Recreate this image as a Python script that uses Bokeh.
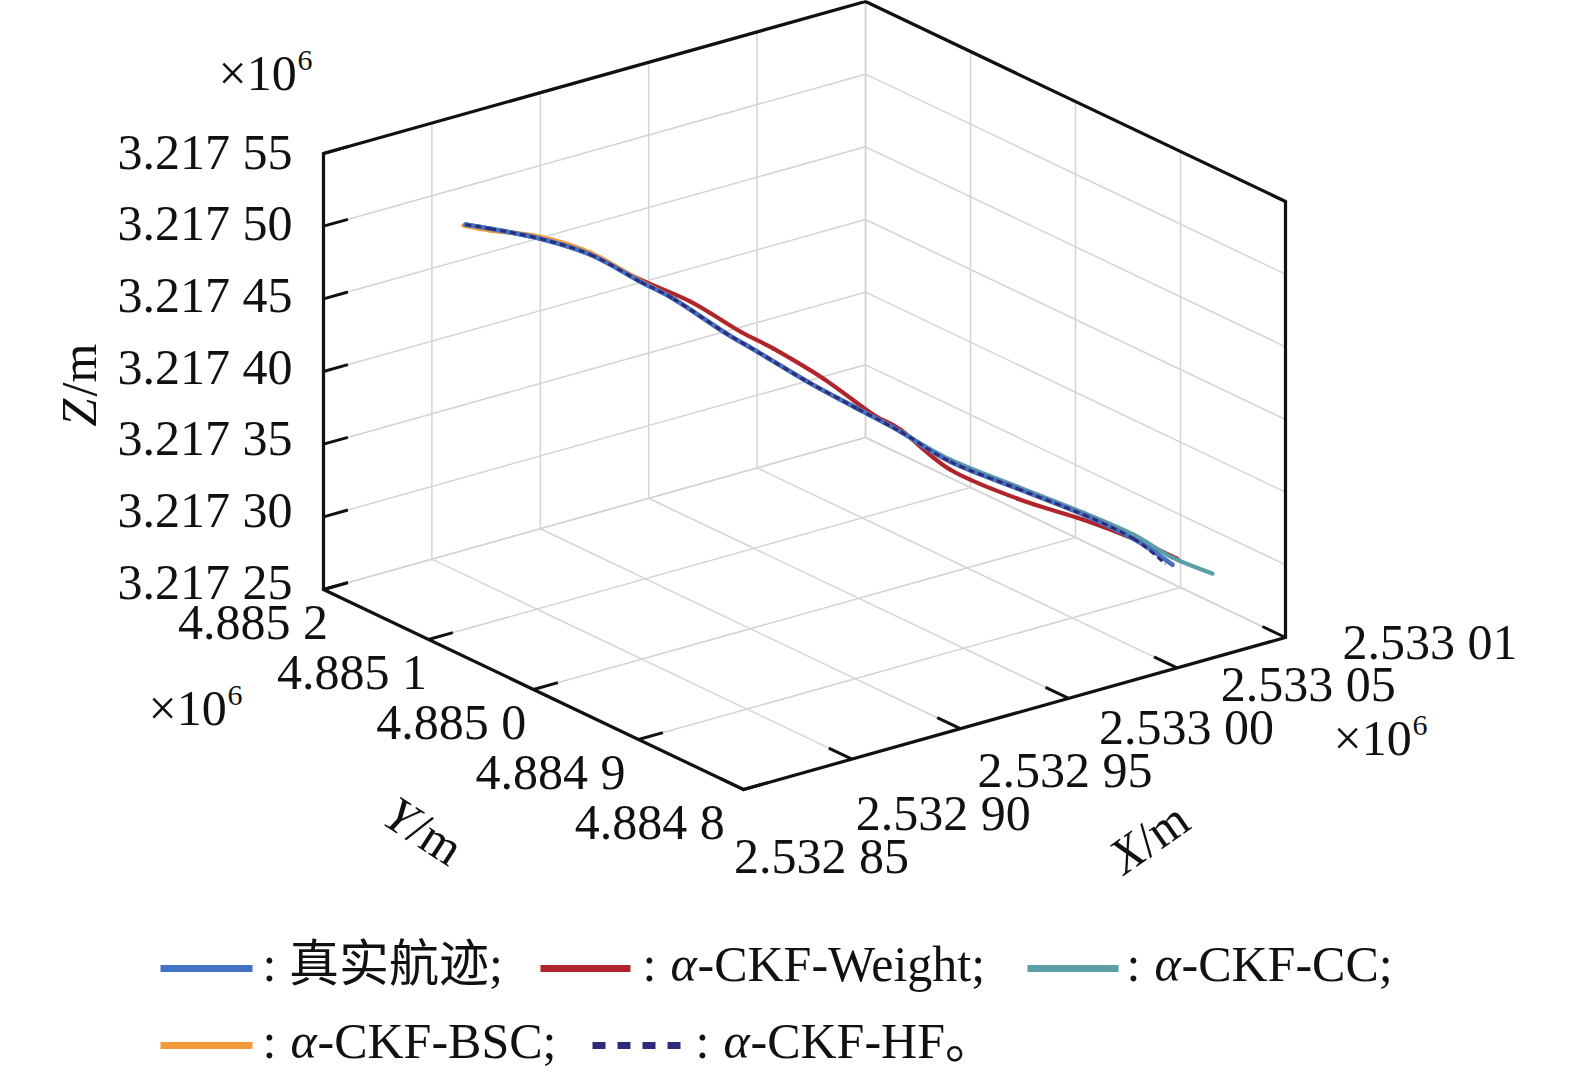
import numpy as np
from bokeh.plotting import figure
from bokeh.models import Range1d
from bokeh.core.properties import value
from bokeh.embed import file_html
from bokeh.resources import INLINE

# ---------------- data (metres) ----------------
x_true = [2532905.8, 2532912.5, 2532925.9, 2532939.3, 2532952.6, 2532962.0, 2532975.4, 2532984.3,
          2532998.2, 2533011.6, 2533023.2, 2533036.5, 2533054.4, 2533072.2, 2533085.6, 2533096.3]
y_true = [4885180, 4885170, 4885150, 4885130, 4885110, 4885098, 4885078, 4885064,
          4885045, 4885025, 4885008, 4884988, 4884961, 4884935, 4884915, 4884900]
z_true = [3217484.6, 3217482.4, 3217476.8, 3217467.1, 3217449.8, 3217438.3, 3217416.9, 3217404.2,
          3217384.3, 3217367.0, 3217352.2, 3217332.8, 3217316.1, 3217299.7, 3217284.4, 3217267.2]

x_weight = [2532905.8, 2532912.5, 2532925.9, 2532939.3, 2532952.6, 2532966.5, 2532979.9, 2532988.8,
            2533002.2, 2533015.5, 2533023.2, 2533036.5, 2533054.4, 2533072.2, 2533085.6, 2533097.6]
y_weight = [4885180, 4885170, 4885150, 4885130, 4885110, 4885091, 4885071, 4885058,
            4885038, 4885018, 4885008, 4884988, 4884961, 4884935, 4884915, 4884898]
z_weight = [3217484.6, 3217482.4, 3217476.8, 3217467.1, 3217451.2, 3217436.8, 3217417.4, 3217406.5,
            3217387.1, 3217363.6, 3217353.5, 3217327.3, 3217309.2, 3217296.2, 3217284.4, 3217271.5]

x_cc = [2532905.8, 2532912.5, 2532925.9, 2532939.3, 2532952.6, 2532962.0, 2532975.4, 2532984.3,
        2532998.2, 2533011.6, 2533023.2, 2533036.5, 2533054.4, 2533072.2, 2533085.6, 2533091.5, 2533095.4]
y_cc = [4885180, 4885170, 4885150, 4885130, 4885110, 4885098, 4885078, 4885064,
        4885045, 4885025, 4885008, 4884988, 4884961, 4884935, 4884915, 4884890, 4884860]
z_cc = [3217484.6, 3217482.4, 3217476.8, 3217467.1, 3217449.8, 3217438.3, 3217416.9, 3217404.2,
        3217384.3, 3217367.0, 3217352.2, 3217334.2, 3217317.4, 3217301.0, 3217287.2, 3217277.5, 3217275.2]

x_bsc = [2532904.9, 2532912.5, 2532925.9, 2532939.3, 2532952.6, 2532962.0, 2532975.4, 2532984.3,
         2532998.2, 2533011.6, 2533023.2, 2533036.5, 2533054.4, 2533072.2, 2533085.6, 2533096.3]
y_bsc = [4885180, 4885170, 4885150, 4885130, 4885110, 4885098, 4885078, 4885064,
         4885045, 4885025, 4885008, 4884988, 4884961, 4884935, 4884915, 4884900]
z_bsc = [3217484.3, 3217481.1, 3217478.2, 3217468.5, 3217450.5, 3217438.3, 3217416.9, 3217404.2,
         3217384.3, 3217367.0, 3217352.2, 3217332.8, 3217316.1, 3217299.7, 3217284.4, 3217267.2]

x_hf = [2532905.8, 2532912.5, 2532925.9, 2532939.3, 2532952.6, 2532962.0, 2532975.4, 2532984.3,
        2532998.2, 2533011.6, 2533023.2, 2533036.5, 2533054.4, 2533072.2, 2533085.6, 2533093.1]
y_hf = [4885180, 4885170, 4885150, 4885130, 4885110, 4885098, 4885078, 4885064,
        4885045, 4885025, 4885008, 4884988, 4884961, 4884935, 4884915, 4884900]
z_hf = [3217484.6, 3217482.4, 3217476.8, 3217467.1, 3217449.8, 3217438.3, 3217416.9, 3217404.2,
        3217384.3, 3217367.0, 3217352.2, 3217332.8, 3217316.1, 3217299.7, 3217284.4, 3217269.2]

X_TICKS = [2532850, 2532900, 2532950, 2533000, 2533050, 2533100]
X_LABELS = ["2.532 85", "2.532 90", "2.532 95", "2.533 00", "2.533 05", "2.533 01"]
Y_TICKS = [4884800, 4884900, 4885000, 4885100, 4885200]
Y_LABELS = ["4.884 8", "4.884 9", "4.885 0", "4.885 1", "4.885 2"]
Z_TICKS = [3217250, 3217300, 3217350, 3217400, 3217450, 3217500, 3217550]
Z_LABELS = ["3.217 25", "3.217 30", "3.217 35", "3.217 40", "3.217 45", "3.217 50", "3.217 55"]

SERIES_NAMES = ["真实航迹;", "-CKF-Weight;", "-CKF-CC;", "-CKF-BSC;", "-CKF-HF。"]
COLORS = ["#4472c4", "#b0252b", "#5b9ea6", "#f39a3a", "#2e2b78"]

# ---------------- projection (orthographic 3D view) ----------------
XMIN, XMAX = X_TICKS[0], X_TICKS[-1]
YMIN, YMAX = Y_TICKS[0], Y_TICKS[-1]
ZMIN, ZMAX = Z_TICKS[0], Z_TICKS[-1]
ORIGIN = (743.0, 789.0)
VX = (542.0, -152.0)
VY = (-420.0, -200.0)
VZ = (0.0, -436.0)

W, H = 1572, 1073


def proj(x, y, z):
    u = (np.asarray(x, float) - XMIN) / (XMAX - XMIN)
    v = (np.asarray(y, float) - YMIN) / (YMAX - YMIN)
    w = (np.asarray(z, float) - ZMIN) / (ZMAX - ZMIN)
    px = ORIGIN[0] + u * VX[0] + v * VY[0] + w * VZ[0]
    py = ORIGIN[1] + u * VX[1] + v * VY[1] + w * VZ[1]
    return px, py


def to_data(px, py):
    return np.asarray(px, float), H - np.asarray(py, float)


def pd(x, y, z):
    return to_data(*proj(x, y, z))


p = figure(width=W, height=H, x_range=Range1d(0, W), y_range=Range1d(0, H),
           output_backend="svg", toolbar_location=None, min_border=0)
p.axis.visible = False
p.grid.visible = False
p.outline_line_color = None
p.background_fill_color = "white"
p.border_fill_color = "white"

SERIF = value("Liberation Serif")
FS = value("50px")
INK = "#111111"

# ---------------- grid lines on back walls and floor ----------------
gx, gy = [], []


def seg(a, b, xs, ys):
    xa, ya = pd(*a)
    xb, yb = pd(*b)
    xs.append([float(xa), float(xb)])
    ys.append([float(ya), float(yb)])


for xt in X_TICKS:
    seg((xt, YMAX, ZMIN), (xt, YMAX, ZMAX), gx, gy)
    seg((xt, YMIN, ZMIN), (xt, YMAX, ZMIN), gx, gy)
for yt in Y_TICKS:
    seg((XMAX, yt, ZMIN), (XMAX, yt, ZMAX), gx, gy)
    seg((XMIN, yt, ZMIN), (XMAX, yt, ZMIN), gx, gy)
for zt in Z_TICKS:
    seg((XMIN, YMAX, zt), (XMAX, YMAX, zt), gx, gy)
    seg((XMAX, YMIN, zt), (XMAX, YMAX, zt), gx, gy)
p.multi_line(gx, gy, line_color="#d4d4d4", line_width=1.5)

# ---------------- box outline ----------------
bx, by = [], []
for a, b in [((XMIN, YMAX, ZMAX), (XMAX, YMAX, ZMAX)),
             ((XMAX, YMAX, ZMAX), (XMAX, YMIN, ZMAX)),
             ((XMIN, YMAX, ZMIN), (XMIN, YMAX, ZMAX)),
             ((XMAX, YMIN, ZMIN), (XMAX, YMIN, ZMAX)),
             ((XMIN, YMAX, ZMIN), (XMIN, YMIN, ZMIN)),
             ((XMIN, YMIN, ZMIN), (XMAX, YMIN, ZMIN))]:
    seg(a, b, bx, by)
p.multi_line(bx, by, line_color=INK, line_width=3.2, line_join="round", line_cap="round")

# ---------------- tick marks ----------------
tx, ty = [], []
dX = 0.045 * (XMAX - XMIN)
dY = 0.055 * (YMAX - YMIN)
for zt in Z_TICKS:
    seg((XMIN, YMAX, zt), (XMIN + dX, YMAX, zt), tx, ty)
for yt in Y_TICKS:
    seg((XMIN, yt, ZMIN), (XMIN + dX, yt, ZMIN), tx, ty)
for xt in X_TICKS:
    seg((xt, YMIN, ZMIN), (xt, YMIN + dY, ZMIN), tx, ty)
p.multi_line(tx, ty, line_color=INK, line_width=3)

# ---------------- tick labels ----------------
zx, zy = [], []
for i, zt in enumerate(Z_TICKS):
    px_, py_ = proj(XMIN, YMAX, zt)
    dx, dy = to_data(px_ - 31, py_ - 8 + i)
    zx.append(float(dx)); zy.append(float(dy))
p.text(zx, zy, text=Z_LABELS, text_font=SERIF, text_font_size=FS,
       text_align="right", text_baseline="middle", text_color=INK)

yx, yy = [], []
for j, yt in enumerate(Y_TICKS):
    i = len(Y_TICKS) - 1 - j
    px_, py_ = proj(XMIN, yt, ZMIN)
    dx, dy = to_data(px_ + 4.4 - 5.8 * i, py_ + 32)
    yx.append(float(dx)); yy.append(float(dy))
p.text(yx, yy, text=Y_LABELS, text_font=SERIF, text_font_size=FS,
       text_align="right", text_baseline="middle", text_color=INK)

xx, xy = [], []
for i, xt in enumerate(X_TICKS):
    px_, py_ = proj(xt, YMIN, ZMIN)
    dx, dy = to_data(px_ + 78 + 13.3 * i, py_ + 66 - 12.4 * i)
    xx.append(float(dx)); xy.append(float(dy))
p.text(xx, xy, text=X_LABELS, text_font=SERIF, text_font_size=FS,
       text_align="center", text_baseline="middle", text_color=INK)

# exponent markers
for (lx, ly) in [(218, 72), (148, 707), (1333, 737)]:
    a, b = to_data(lx, ly)
    p.text([float(a)], [float(b)], text=["×10"], text_font=SERIF, text_font_size=FS,
           text_align="left", text_baseline="middle", text_color=INK)
    a, b = to_data(lx + 79, ly - 12)
    p.text([float(a)], [float(b)], text=["6"], text_font=SERIF, text_font_size=value("30px"),
           text_align="left", text_baseline="middle", text_color=INK)

# axis titles
a, b = to_data(78, 426)
p.text([float(a)], [float(b)], text=["Z"], angle=np.pi / 2, text_font=SERIF, text_font_size=FS,
       text_font_style="italic", text_align="left", text_baseline="middle", text_color=INK)
a, b = to_data(78, 426 - 30)
p.text([float(a)], [float(b)], text=["/m"], angle=np.pi / 2, text_font=SERIF, text_font_size=FS,
       text_align="left", text_baseline="middle", text_color=INK)

ang = np.deg2rad(33)
sx, sy = 389.0, 808.0
a, b = to_data(sx, sy)
p.text([float(a)], [float(b)], text=["Y"], angle=-ang, text_font=SERIF, text_font_size=FS,
       text_font_style="italic", text_align="left", text_baseline="middle", text_color=INK)
a, b = to_data(sx + 29 * np.cos(ang), sy + 29 * np.sin(ang))
p.text([float(a)], [float(b)], text=["/m"], angle=-ang, text_font=SERIF, text_font_size=FS,
       text_align="left", text_baseline="middle", text_color=INK)

ang = np.deg2rad(35)
sx, sy = 1114.0, 861.0
a, b = to_data(sx, sy)
p.text([float(a)], [float(b)], text=["X"], angle=ang, text_font=SERIF, text_font_size=FS,
       text_font_style="italic", text_align="left", text_baseline="middle", text_color=INK)
a, b = to_data(sx + 31 * np.cos(ang), sy - 31 * np.sin(ang))
p.text([float(a)], [float(b)], text=["/m"], angle=ang, text_font=SERIF, text_font_size=FS,
       text_align="left", text_baseline="middle", text_color=INK)


# ---------------- trajectories (smooth cubic pieces through the read points) ----------------
def draw_track(xs, ys, zs, **kw):
    px, py = proj(xs, ys, zs)
    P = np.column_stack(to_data(px, py))
    E = np.vstack([P[0], P, P[-1]])
    n = len(P)
    c0 = [E[i + 1] + (E[i + 2] - E[i]) / 6.0 for i in range(n - 1)]
    c1 = [E[i + 2] - (E[i + 3] - E[i + 1]) / 6.0 for i in range(n - 1)]
    p.bezier(x0=P[:-1, 0].tolist(), y0=P[:-1, 1].tolist(),
             x1=P[1:, 0].tolist(), y1=P[1:, 1].tolist(),
             cx0=[float(c[0]) for c in c0], cy0=[float(c[1]) for c in c0],
             cx1=[float(c[0]) for c in c1], cy1=[float(c[1]) for c in c1], **kw)


draw_track(x_weight, y_weight, z_weight, line_color=COLORS[1], line_width=4.2, line_cap="round")
draw_track(x_cc, y_cc, z_cc, line_color=COLORS[2], line_width=4.2, line_cap="round")
draw_track(x_bsc, y_bsc, z_bsc, line_color=COLORS[3], line_width=4.2, line_cap="round")
draw_track(x_true, y_true, z_true, line_color=COLORS[0], line_width=4.6, line_cap="round")
draw_track(x_hf, y_hf, z_hf, line_color=COLORS[4], line_width=3.0, line_dash="6 4")

# ---------------- legend (drawn manually, two rows) ----------------
MIXED = value("Liberation Serif, Noto Sans CJK SC")
legend_items = [
    # line x0, x1, y(center), text x0, color, dash, has_alpha, label
    (160, 252, 968, 262, COLORS[0], None, False, SERIES_NAMES[0]),
    (540, 630, 968, 642, COLORS[1], None, True, SERIES_NAMES[1]),
    (1027, 1118, 968, 1126, COLORS[2], None, True, SERIES_NAMES[2]),
    (160, 252, 1045, 262, COLORS[3], None, True, SERIES_NAMES[3]),
    (592, 688, 1045, 695, COLORS[4], "13 12", True, SERIES_NAMES[4]),
]
for lx0, lx1, ly, tx0, col, dash, has_alpha, label in legend_items:
    a0, b0 = to_data(lx0, ly)
    a1, b1 = to_data(lx1, ly)
    kw = dict(line_color=col, line_width=7)
    if dash:
        kw["line_dash"] = dash
    p.segment([float(a0)], [float(b0)], [float(a1)], [float(b1)], **kw)
    ty_ = ly - 5
    if not has_alpha:
        a, b = to_data(tx0, ty_)
        p.text([float(a)], [float(b)], text=[": " + label], text_font=MIXED, text_font_size=FS,
               text_align="left", text_baseline="middle", text_color=INK)
    else:
        a, b = to_data(tx0, ty_)
        p.text([float(a)], [float(b)], text=[":"], text_font=SERIF, text_font_size=FS,
               text_align="left", text_baseline="middle", text_color=INK)
        a, b = to_data(tx0 + 28, ty_)
        p.text([float(a)], [float(b)], text=["α"], text_font=SERIF, text_font_size=FS,
               text_font_style="italic", text_align="left", text_baseline="middle", text_color=INK)
        a, b = to_data(tx0 + 55, ty_)
        p.text([float(a)], [float(b)], text=[label], text_font=MIXED, text_font_size=FS,
               text_align="left", text_baseline="middle", text_color=INK)

open("out.html", "w").write(file_html(p, INLINE))
